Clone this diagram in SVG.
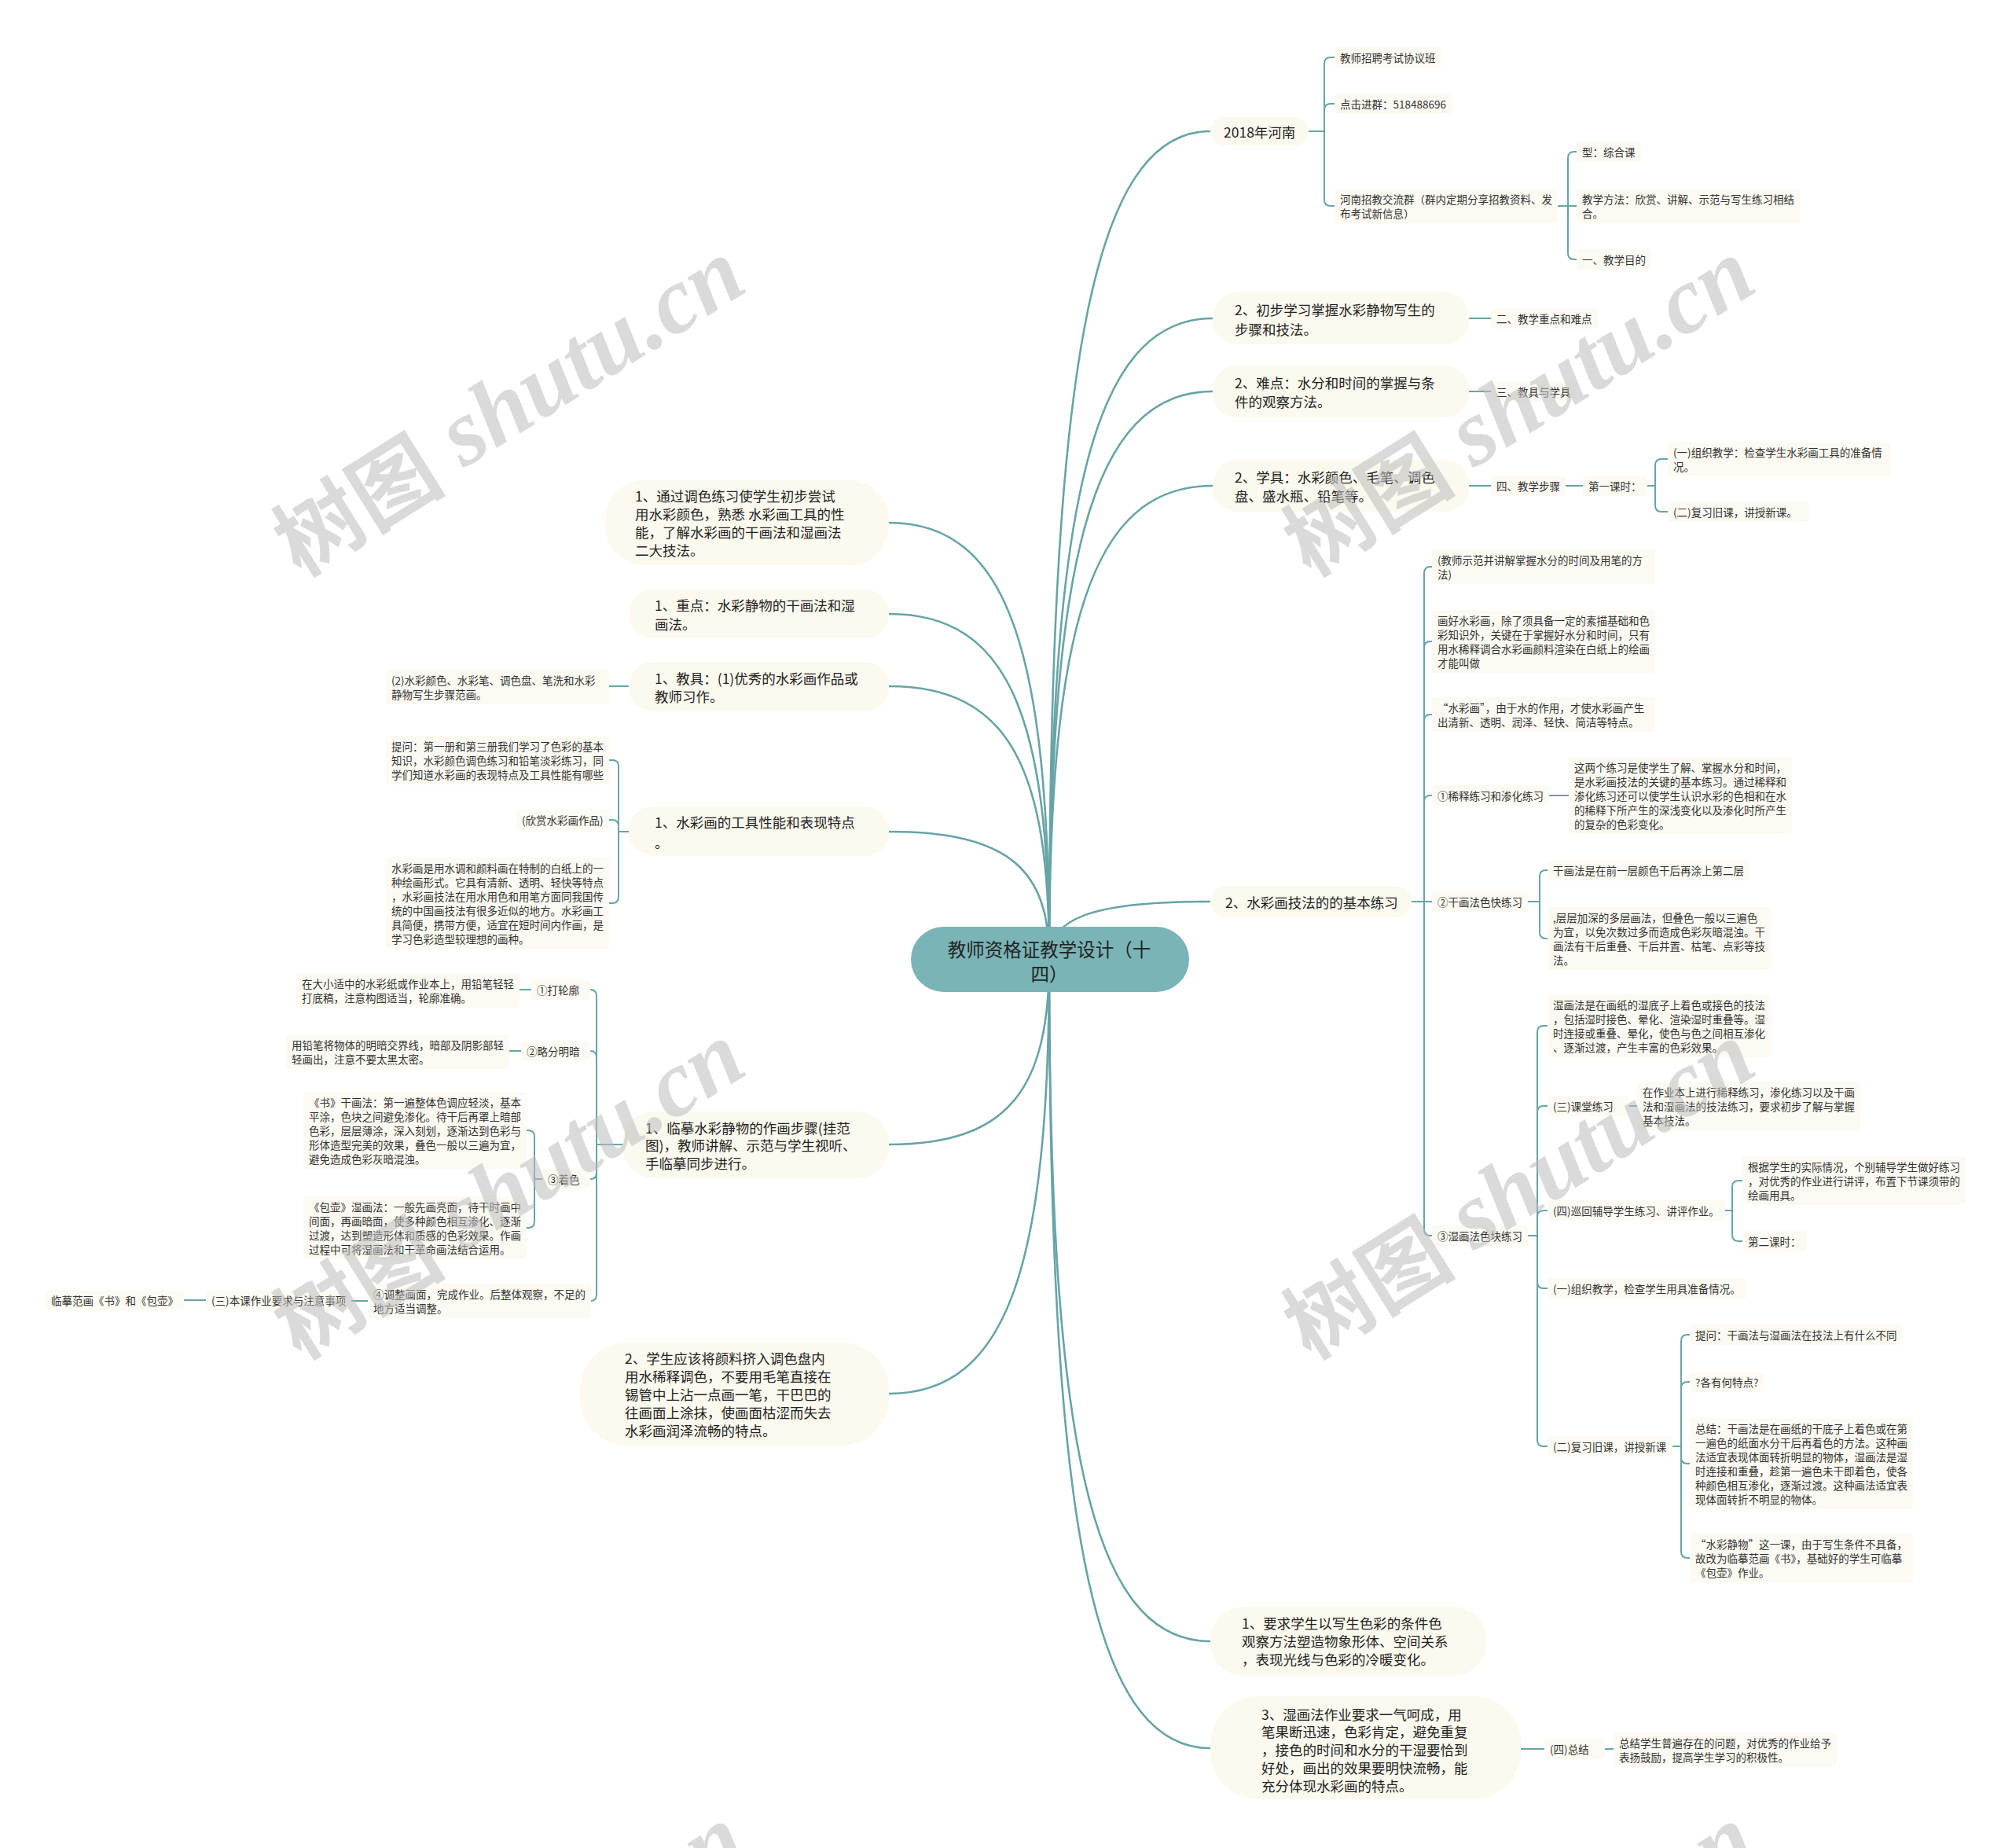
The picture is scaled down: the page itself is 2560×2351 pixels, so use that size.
<svg xmlns="http://www.w3.org/2000/svg" width="2560" height="2351" viewBox="0 0 2560 2351">
<style>
text{font-family:"Noto Sans CJK SC","Noto Sans",sans-serif;dominant-baseline:central;}
.l1{fill:#fcf9ee;}
.sn{fill:#fcfaf2;}
.t1{font-size:17.5px;fill:#222;}
.t2{font-size:13.5px;fill:#333;}
.rt{font-size:23.5px;fill:#222;text-anchor:middle;}
.cm{fill:none;stroke:#68a4a6;stroke-width:2.6;stroke-linecap:round;}
.cs{fill:none;stroke:#68a4a6;stroke-width:2;stroke-linecap:round;}
.wm{font-family:"Liberation Serif",serif;font-style:italic;font-weight:bold;font-size:120px;fill:#bdbdbd;opacity:0.55;text-anchor:middle;}
.wm tspan.cj{font-family:"Noto Sans CJK SC",sans-serif;font-style:normal;font-size:110px;}
</style>
<rect width="2560" height="2351" fill="#ffffff"/>
<g id="connectors">
<path class="cm" d="M1335 1220 C1335 483 1386 167 1540 167"/>
<path class="cm" d="M1335 1220 C1335 650 1387 405 1543 405"/>
<path class="cm" d="M1335 1220 C1335 715 1387 498 1543 498"/>
<path class="cm" d="M1335 1220 C1335 799 1387 618 1543 618"/>
<path class="cm" d="M1335 1220 C1335 1169 1386 1147 1540 1147"/>
<path class="cm" d="M1335 1220 C1335 1828 1386 2088 1540 2088"/>
<path class="cm" d="M1335 1220 C1335 1923 1386 2224 1540 2224"/>
<path class="cm" d="M1335 1220 C1335 831 1284 665 1131 665"/>
<path class="cm" d="M1335 1220 C1335 913 1284 781 1131 781"/>
<path class="cm" d="M1335 1220 C1335 977 1284 873 1131 873"/>
<path class="cm" d="M1335 1220 C1335 1107 1284 1058 1131 1058"/>
<path class="cm" d="M1335 1220 C1335 1385 1284 1456 1131 1456"/>
<path class="cm" d="M1335 1220 C1335 1607 1284 1773 1131 1773"/>
<!-- A -->
<path class="cs" d="M1665 167 H1685 M1685 167 V81 Q1685 73 1693 73 H1698 M1685 167 V140 Q1685 132 1693 132 H1698 M1685 167 V254 Q1685 262 1693 262 H1698"/>
<path class="cs" d="M1982 262 H2006 M1995 262 V201 Q1995 193 2003 193 H2006 M1995 262 V322 Q1995 330 2003 330 H2006"/>
<!-- B C D -->
<path class="cs" d="M1869 405 H1897 M1869 498 H1897 M1869 618 H1897 M1992 618 H2014 M2096 618 H2106 M2106 618 V592 Q2106 584 2114 584 H2122 M2106 618 V643 Q2106 651 2114 651 H2122"/>
<!-- E -->
<path class="cs" d="M1796 1147 H1822 M1812 1147 V729 Q1812 721 1820 721 H1822 M1812 1147 V824 Q1812 816 1820 816 H1822 M1812 1147 V917 Q1812 909 1820 909 H1822 M1812 1147 V1020 Q1812 1012 1820 1012 H1822 M1812 1147 V1564 Q1812 1572 1820 1572 H1822"/>
<path class="cs" d="M1971 1012 H1996"/>
<path class="cs" d="M1944 1147 H1959 M1959 1147 V1115 Q1959 1107 1967 1107 H1969 M1959 1147 V1186 Q1959 1194 1967 1194 H1969"/>
<path class="cs" d="M1944 1572 H1956 M1956 1572 V1313 Q1956 1305 1964 1305 H1969 M1956 1572 V1415 Q1956 1407 1964 1407 H1969 M1956 1572 V1548 Q1956 1540 1964 1540 H1969 M1956 1572 V1631 Q1956 1639 1964 1639 H1969 M1956 1572 V1832 Q1956 1840 1964 1840 H1969"/>
<path class="cs" d="M2073 1407 H2083"/>
<path class="cs" d="M2195 1540 H2204 M2204 1540 V1510 Q2204 1502 2212 1502 H2217 M2204 1540 V1571 Q2204 1579 2212 1579 H2217"/>
<path class="cs" d="M2128 1840 H2139 M2139 1840 V1706 Q2139 1698 2147 1698 H2150 M2139 1840 V1766 Q2139 1758 2147 1758 H2150 M2139 1840 V1854 Q2139 1862 2147 1862 H2150 M2139 1840 V1974 Q2139 1982 2147 1982 H2150"/>
<!-- G -->
<path class="cs" d="M1935 2225 H1965 M2042 2225 H2053"/>
<!-- left -->
<path class="cs" d="M800 873 H775"/>
<path class="cs" d="M800 1058 H787 M787 1058 V975 Q787 967 779 967 H775 M787 1058 V1051 Q787 1043 779 1043 H775 M787 1058 V1141 Q787 1149 779 1149 H775"/>
<path class="cs" d="M792 1456 H759 M759 1456 V1267 Q759 1259 751 1259 M759 1456 V1345 Q759 1337 751 1337 M759 1456 V1492 Q759 1500 751 1500 M759 1456 V1647 Q759 1655 751 1655"/>
<path class="cs" d="M676 1259 H661 M663 1337 H648"/>
<path class="cs" d="M690 1500 H680 M680 1500 V1446 Q680 1438 672 1438 H670 M680 1500 V1554 Q680 1562 672 1562 H670"/>
<path class="cs" d="M468 1655 H447 M262 1654 H234"/>
</g>

<g id="root">
<rect x="1159" y="1179" width="354" height="83" rx="41.5" fill="#7ab4b6"/>
<text class="rt" x="1335" y="1207">教师资格证教学设计（十</text>
<text class="rt" x="1335" y="1238">四）</text>
</g>

<!-- Right level 1 -->
<g id="nA">
<rect class="l1" x="1540" y="149" width="125" height="36" rx="18"/>
<text class="t1" x="1557" y="167">2018年河南</text>
</g>
<g id="nA1"><rect class="sn" x="1698" y="60" width="136" height="26" rx="4"/><text class="t2" x="1705" y="73">教师招聘考试协议班</text></g>
<g id="nA2"><rect class="sn" x="1698" y="119" width="149" height="26" rx="4"/><text class="t2" x="1705" y="132">点击进群：518488696</text></g>
<g id="nA3"><rect class="sn" x="1698" y="240" width="284" height="44" rx="4"/><text class="t2" x="1705" y="253">河南招教交流群（群内定期分享招教资料、发</text><text class="t2" x="1705" y="271">布考试新信息）</text></g>
<g id="nA31"><rect class="sn" x="2006" y="180" width="82" height="26" rx="4"/><text class="t2" x="2013" y="193">型：综合课</text></g>
<g id="nA32"><rect class="sn" x="2006" y="240" width="284" height="44" rx="4"/><text class="t2" x="2013" y="253">教学方法：欣赏、讲解、示范与写生练习相结</text><text class="t2" x="2013" y="271">合。</text></g>
<g id="nA33"><rect class="sn" x="2006" y="317" width="95" height="26" rx="4"/><text class="t2" x="2013" y="330">一、教学目的</text></g>

<g id="nB">
<rect class="l1" x="1543" y="372" width="326" height="66" rx="30"/>
<text class="t1" x="1571" y="393">2、初步学习掌握水彩静物写生的</text>
<text class="t1" x="1571" y="418">步骤和技法。</text>
</g>
<g id="nB1"><rect class="sn" x="1897" y="392" width="136" height="26" rx="4"/><text class="t2" x="1904" y="405">二、教学重点和难点</text></g>

<g id="nC">
<rect class="l1" x="1543" y="465" width="326" height="66" rx="30"/>
<text class="t1" x="1571" y="486">2、难点：水分和时间的掌握与条</text>
<text class="t1" x="1571" y="510">件的观察方法。</text>
</g>
<g id="nC1"><rect class="sn" x="1897" y="485" width="109" height="26" rx="4"/><text class="t2" x="1904" y="498">三、教具与学具</text></g>

<g id="nD">
<rect class="l1" x="1543" y="585" width="326" height="66" rx="30"/>
<text class="t1" x="1571" y="606">2、学具：水彩颜色、毛笔、调色</text>
<text class="t1" x="1571" y="630">盘、盛水瓶、铅笔等。</text>
</g>
<g id="nD1"><rect class="sn" x="1897" y="605" width="95" height="26" rx="4"/><text class="t2" x="1904" y="618">四、教学步骤</text></g>
<g id="nD2"><rect class="sn" x="2014" y="605" width="82" height="26" rx="4"/><text class="t2" x="2021" y="618">第一课时：</text></g>
<g id="nD21"><rect class="sn" x="2122" y="562" width="284" height="44" rx="4"/><text class="t2" x="2129" y="575">(一)组织教学：检查学生水彩画工具的准备情</text><text class="t2" x="2129" y="593">况。</text></g>
<g id="nD22"><rect class="sn" x="2122" y="638" width="180" height="26" rx="4"/><text class="t2" x="2129" y="651">(二)复习旧课，讲授新课。</text></g>

<g id="nE">
<rect class="l1" x="1540" y="1127" width="256" height="40" rx="20"/>
<text class="t1" x="1559" y="1147">2、水彩画技法的的基本练习</text>
</g>
<g id="nE1"><rect class="sn" x="1822" y="699" width="284" height="44" rx="4"/><text class="t2" x="1829" y="712">(教师示范并讲解掌握水分的时间及用笔的方</text><text class="t2" x="1829" y="730">法)</text></g>
<g id="nE2"><rect class="sn" x="1822" y="776" width="284" height="80" rx="4"/><text class="t2" x="1829" y="789">画好水彩画，除了须具备一定的素描基础和色</text><text class="t2" x="1829" y="807">彩知识外，关键在于掌握好水分和时间，只有</text><text class="t2" x="1829" y="825">用水稀释调合水彩画颜料渲染在白纸上的绘画</text><text class="t2" x="1829" y="843">才能叫做</text></g>
<g id="nE3"><rect class="sn" x="1822" y="887" width="284" height="44" rx="4"/><text class="t2" x="1829" y="900">“水彩画”，由于水的作用，才使水彩画产生</text><text class="t2" x="1829" y="918">出清新、透明、润泽、轻快、简洁等特点。</text></g>
<g id="nE4"><rect class="sn" x="1822" y="999" width="149" height="26" rx="4"/><text class="t2" x="1829" y="1012">①稀释练习和渗化练习</text></g>
<g id="nE41"><rect class="sn" x="1996" y="963" width="284" height="98" rx="4"/><text class="t2" x="2003" y="976">这两个练习是使学生了解、掌握水分和时间，</text><text class="t2" x="2003" y="994">是水彩画技法的关键的基本练习。通过稀释和</text><text class="t2" x="2003" y="1012">渗化练习还可以使学生认识水彩的色相和在水</text><text class="t2" x="2003" y="1030">的稀释下所产生的深浅变化以及渗化时所产生</text><text class="t2" x="2003" y="1048">的复杂的色彩变化。</text></g>
<g id="nE5"><rect class="sn" x="1822" y="1134" width="122" height="26" rx="4"/><text class="t2" x="1829" y="1147">②干画法色快练习</text></g>
<g id="nE51"><rect class="sn" x="1969" y="1094" width="257" height="26" rx="4"/><text class="t2" x="1976" y="1107">干画法是在前一层颜色干后再涂上第二层</text></g>
<g id="nE52"><rect class="sn" x="1969" y="1154" width="284" height="80" rx="4"/><text class="t2" x="1976" y="1167">,层层加深的多层画法，但叠色一般以三遍色</text><text class="t2" x="1976" y="1185">为宜，以免次数过多而造成色彩灰暗混浊。干</text><text class="t2" x="1976" y="1203">画法有干后重叠、干后并置、枯笔、点彩等技</text><text class="t2" x="1976" y="1221">法。</text></g>
<g id="nE6"><rect class="sn" x="1822" y="1559" width="122" height="26" rx="4"/><text class="t2" x="1829" y="1572">③湿画法色块练习</text></g>
<g id="nE61"><rect class="sn" x="1969" y="1265" width="284" height="80" rx="4"/><text class="t2" x="1976" y="1278">湿画法是在画纸的湿底子上着色或接色的技法</text><text class="t2" x="1976" y="1296">，包括湿时接色、晕化、渲染湿时重叠等。湿</text><text class="t2" x="1976" y="1314">时连接或重叠、晕化，使色与色之间相互渗化</text><text class="t2" x="1976" y="1332">、逐渐过渡，产生丰富的色彩效果。</text></g>
<g id="nE62"><rect class="sn" x="1969" y="1394" width="104" height="26" rx="4"/><text class="t2" x="1976" y="1407">(三)课堂练习</text></g>
<g id="nE621"><rect class="sn" x="2083" y="1376" width="284" height="62" rx="4"/><text class="t2" x="2090" y="1389">在作业本上进行稀释练习，渗化练习以及干画</text><text class="t2" x="2090" y="1407">法和湿画法的技法练习，要求初步了解与掌握</text><text class="t2" x="2090" y="1425">基本技法。</text></g>
<g id="nE63"><rect class="sn" x="1969" y="1527" width="226" height="26" rx="4"/><text class="t2" x="1976" y="1540">(四)巡回辅导学生练习、讲评作业。</text></g>
<g id="nE631"><rect class="sn" x="2217" y="1471" width="284" height="62" rx="4"/><text class="t2" x="2224" y="1484">根据学生的实际情况，个别辅导学生做好练习</text><text class="t2" x="2224" y="1502">，对优秀的作业进行讲评，布置下节课须带的</text><text class="t2" x="2224" y="1520">绘画用具。</text></g>
<g id="nE632"><rect class="sn" x="2217" y="1566" width="82" height="26" rx="4"/><text class="t2" x="2224" y="1579">第二课时：</text></g>
<g id="nE64"><rect class="sn" x="1969" y="1626" width="253" height="26" rx="4"/><text class="t2" x="1976" y="1639">(一)组织教学，检查学生用具准备情况。</text></g>
<g id="nE65"><rect class="sn" x="1969" y="1827" width="159" height="26" rx="4"/><text class="t2" x="1976" y="1840">(二)复习旧课，讲授新课</text></g>
<g id="nE651"><rect class="sn" x="2150" y="1685" width="270" height="26" rx="4"/><text class="t2" x="2157" y="1698">提问：干画法与湿画法在技法上有什么不同</text></g>
<g id="nE652"><rect class="sn" x="2150" y="1745" width="95" height="26" rx="4"/><text class="t2" x="2157" y="1758">?各有何特点?</text></g>
<g id="nE653"><rect class="sn" x="2150" y="1804" width="284" height="116" rx="4"/><text class="t2" x="2157" y="1817">总结：干画法是在画纸的干底子上着色或在第</text><text class="t2" x="2157" y="1835">一遍色的纸面水分干后再着色的方法。这种画</text><text class="t2" x="2157" y="1853">法适宜表现体面转折明显的物体，湿画法是湿</text><text class="t2" x="2157" y="1871">时连接和重叠，趁第一遍色未干即着色，使各</text><text class="t2" x="2157" y="1889">种颜色相互渗化，逐渐过渡。这种画法适宜表</text><text class="t2" x="2157" y="1907">现体面转折不明显的物体。</text></g>
<g id="nE654"><rect class="sn" x="2150" y="1951" width="284" height="62" rx="4"/><text class="t2" x="2157" y="1964">“水彩静物”这一课，由于写生条件不具备，</text><text class="t2" x="2157" y="1982">故改为临摹范画《书》，基础好的学生可临摹</text><text class="t2" x="2157" y="2000">《包壶》作业。</text></g>

<g id="nF">
<rect class="l1" x="1540" y="2044" width="351" height="88" rx="42"/>
<text class="t1" x="1580" y="2064">1、要求学生以写生色彩的条件色</text>
<text class="t1" x="1580" y="2087">观察方法塑造物象形体、空间关系</text>
<text class="t1" x="1580" y="2110">，表现光线与色彩的冷暖变化。</text>
</g>
<g id="nG">
<rect class="l1" x="1540" y="2158" width="395" height="131" rx="60"/>
<text class="t1" x="1605" y="2180">3、湿画法作业要求一气呵成，用</text>
<text class="t1" x="1605" y="2202">笔果断迅速，色彩肯定，避免重复</text>
<text class="t1" x="1605" y="2225">，接色的时间和水分的干湿要恰到</text>
<text class="t1" x="1605" y="2248">好处，画出的效果要明快流畅，能</text>
<text class="t1" x="1605" y="2271">充分体现水彩画的特点。</text>
</g>
<g id="nG1"><rect class="sn" x="1965" y="2212" width="77" height="26" rx="4"/><text class="t2" x="1972" y="2225">(四)总结</text></g>
<g id="nG11"><rect class="sn" x="2053" y="2204" width="284" height="44" rx="4"/><text class="t2" x="2060" y="2217">总结学生普遍存在的问题，对优秀的作业给予</text><text class="t2" x="2060" y="2235">表扬鼓励，提高学生学习的积极性。</text></g>

<!-- Left level 1 -->
<g id="nH">
<rect class="l1" x="770" y="611" width="361" height="108" rx="50"/>
<text class="t1" x="808" y="630">1、通过调色练习使学生初步尝试</text>
<text class="t1" x="808" y="653">用水彩颜色，熟悉 水彩画工具的性</text>
<text class="t1" x="808" y="676">能，了解水彩画的干画法和湿画法</text>
<text class="t1" x="808" y="699">二大技法。</text>
</g>
<g id="nI">
<rect class="l1" x="800" y="750" width="331" height="62" rx="30"/>
<text class="t1" x="833" y="769">1、重点：水彩静物的干画法和湿</text>
<text class="t1" x="833" y="793">画法。</text>
</g>
<g id="nJ">
<rect class="l1" x="800" y="842" width="331" height="63" rx="30"/>
<text class="t1" x="833" y="862">1、教具：(1)优秀的水彩画作品或</text>
<text class="t1" x="833" y="885">教师习作。</text>
</g>
<g id="nJ1"><rect class="sn" x="491" y="852" width="284" height="44" rx="4"/><text class="t2" x="498" y="865">(2)水彩颜色、水彩笔、调色盘、笔洗和水彩</text><text class="t2" x="498" y="883">静物写生步骤范画。</text></g>
<g id="nK">
<rect class="l1" x="800" y="1026" width="331" height="63" rx="30"/>
<text class="t1" x="833" y="1045">1、水彩画的工具性能和表现特点</text>
<text class="t1" x="833" y="1071">。</text>
</g>
<g id="nK1"><rect class="sn" x="491" y="936" width="284" height="62" rx="4"/><text class="t2" x="498" y="949">提问：第一册和第三册我们学习了色彩的基本</text><text class="t2" x="498" y="967">知识，水彩颜色调色练习和铅笔淡彩练习，同</text><text class="t2" x="498" y="985">学们知道水彩画的表现特点及工具性能有哪些</text></g>
<g id="nK2"><rect class="sn" x="657" y="1030" width="118" height="26" rx="4"/><text class="t2" x="664" y="1043">(欣赏水彩画作品)</text></g>
<g id="nK3"><rect class="sn" x="491" y="1091" width="284" height="116" rx="4"/><text class="t2" x="498" y="1104">水彩画是用水调和颜料画在特制的白纸上的一</text><text class="t2" x="498" y="1122">种绘画形式。它具有清新、透明、轻快等特点</text><text class="t2" x="498" y="1140">，水彩画技法在用水用色和用笔方面同我国传</text><text class="t2" x="498" y="1158">统的中国画技法有很多近似的地方。水彩画工</text><text class="t2" x="498" y="1176">具简便，携带方便，适宜在短时间内作画，是</text><text class="t2" x="498" y="1194">学习色彩造型较理想的画种。</text></g>
<g id="nL">
<rect class="l1" x="792" y="1414" width="339" height="85" rx="40"/>
<text class="t1" x="821" y="1434">1、临摹水彩静物的作画步骤(挂范</text>
<text class="t1" x="821" y="1456">图)，教师讲解、示范与学生视听、</text>
<text class="t1" x="821" y="1479">手临摹同步进行。</text>
</g>
<g id="nL1"><rect class="sn" x="676" y="1246" width="75" height="26" rx="4"/><text class="t2" x="683" y="1259">①打轮廓</text></g>
<g id="nL11"><rect class="sn" x="377" y="1238" width="284" height="44" rx="4"/><text class="t2" x="384" y="1251">在大小适中的水彩纸或作业本上，用铅笔轻轻</text><text class="t2" x="384" y="1269">打底稿，注意构图适当，轮廓准确。</text></g>
<g id="nL2"><rect class="sn" x="663" y="1324" width="88" height="26" rx="4"/><text class="t2" x="670" y="1337">②略分明暗</text></g>
<g id="nL21"><rect class="sn" x="364" y="1316" width="284" height="44" rx="4"/><text class="t2" x="371" y="1329">用铅笔将物体的明暗交界线，暗部及阴影部轻</text><text class="t2" x="371" y="1347">轻画出，注意不要太黑太密。</text></g>
<g id="nL3"><rect class="sn" x="690" y="1487" width="61" height="26" rx="4"/><text class="t2" x="697" y="1500">③着色</text></g>
<g id="nL31"><rect class="sn" x="386" y="1389" width="284" height="98" rx="4"/><text class="t2" x="393" y="1402">《书》干画法：第一遍整体色调应轻淡，基本</text><text class="t2" x="393" y="1420">平涂，色块之间避免渗化。待干后再罩上暗部</text><text class="t2" x="393" y="1438">色彩，层层薄涂，深入刻划，逐渐达到色彩与</text><text class="t2" x="393" y="1456">形体造型完美的效果，叠色一般以三遍为宜，</text><text class="t2" x="393" y="1474">避免造成色彩灰暗混浊。</text></g>
<g id="nL32"><rect class="sn" x="386" y="1522" width="284" height="80" rx="4"/><text class="t2" x="393" y="1535">《包壶》湿画法：一般先画亮面，待干时画中</text><text class="t2" x="393" y="1553">间面，再画暗面，使多种颜色相互渗化、逐渐</text><text class="t2" x="393" y="1571">过渡，达到塑造形体和质感的色彩效果。作画</text><text class="t2" x="393" y="1589">过程中可将湿画法和干革命画法结合运用。</text></g>
<g id="nL4"><rect class="sn" x="468" y="1633" width="284" height="44" rx="4"/><text class="t2" x="475" y="1646">④调整画面，完成作业。后整体观察，不足的</text><text class="t2" x="475" y="1664">地方适当调整。</text></g>
<g id="nL41"><rect class="sn" x="262" y="1641" width="185" height="26" rx="4"/><text class="t2" x="269" y="1654">(三)本课作业要求与注意事项</text></g>
<g id="nL411"><rect class="sn" x="58" y="1641" width="176" height="26" rx="4"/><text class="t2" x="65" y="1654">临摹范画《书》和《包壶》</text></g>
<g id="nM">
<rect class="l1" x="738" y="1708" width="393" height="131" rx="60"/>
<text class="t1" x="795" y="1727">2、学生应该将颜料挤入调色盘内</text>
<text class="t1" x="795" y="1750">用水稀释调色，不要用毛笔直接在</text>
<text class="t1" x="795" y="1773">锡管中上沾一点画一笔，干巴巴的</text>
<text class="t1" x="795" y="1796">往画面上涂抹，使画面枯涩而失去</text>
<text class="t1" x="795" y="1819">水彩画润泽流畅的特点。</text>
</g>

<g id="watermarks">
<text class="wm" transform="translate(645 514) rotate(-32)"><tspan class="cj">树图</tspan> shutu.cn</text>
<text class="wm" transform="translate(1930 514) rotate(-32)"><tspan class="cj">树图</tspan> shutu.cn</text>
<text class="wm" transform="translate(645 1510) rotate(-32)"><tspan class="cj">树图</tspan> shutu.cn</text>
<text class="wm" transform="translate(1930 1510) rotate(-32)"><tspan class="cj">树图</tspan> shutu.cn</text>
<text class="wm" transform="translate(645 2506) rotate(-32)"><tspan class="cj">树图</tspan> shutu.cn</text>
<text class="wm" transform="translate(1930 2506) rotate(-32)"><tspan class="cj">树图</tspan> shutu.cn</text>
</g>
</svg>
